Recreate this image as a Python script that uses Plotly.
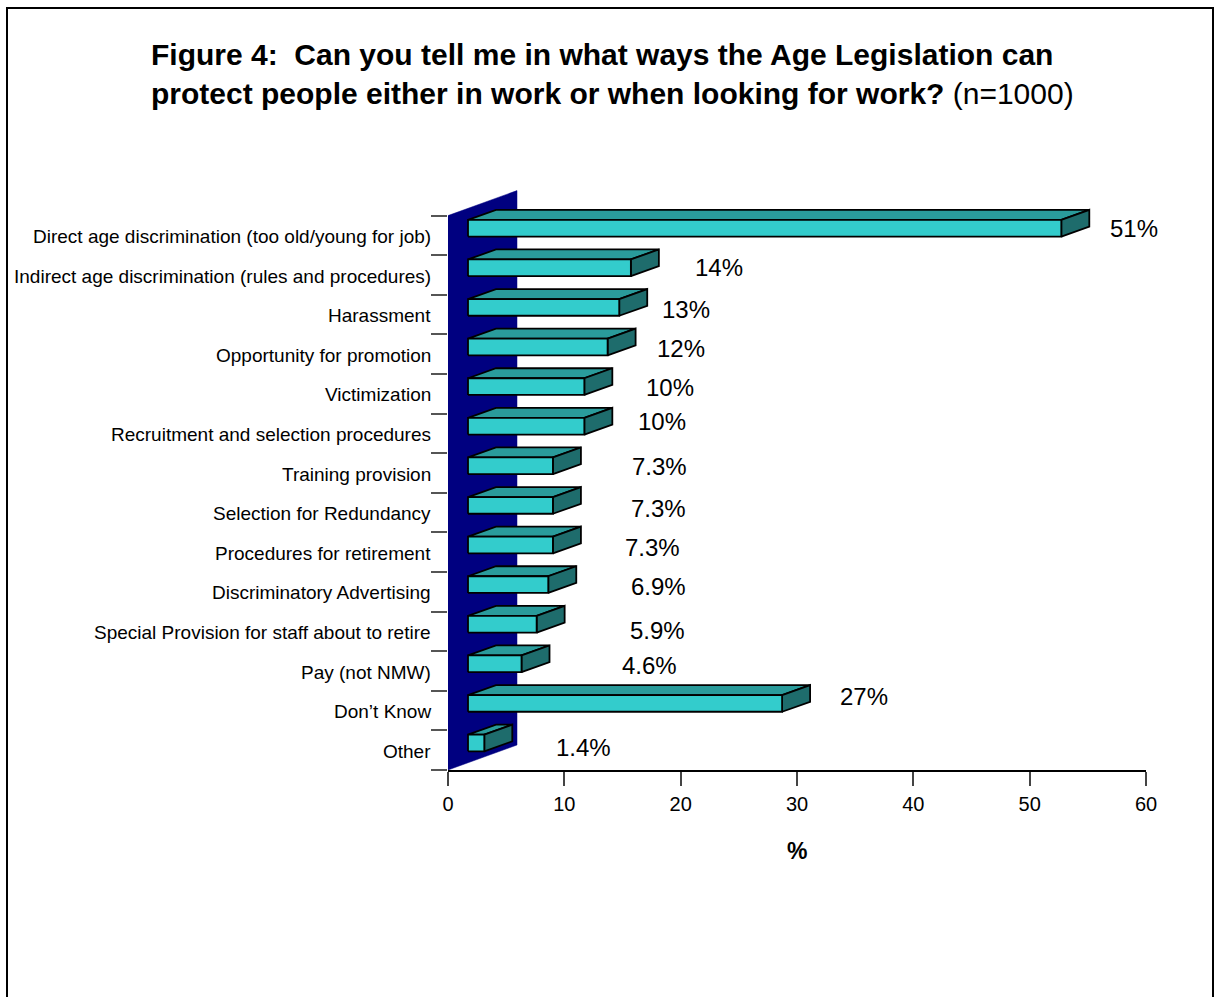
import plotly.graph_objects as go

# Survey responses (top to bottom)
categories = [
    "Direct age discrimination (too old/young for job)",
    "Indirect age discrimination (rules and procedures)",
    "Harassment",
    "Opportunity for promotion",
    "Victimization",
    "Recruitment and selection procedures",
    "Training provision",
    "Selection for Redundancy",
    "Procedures for retirement",
    "Discriminatory Advertising",
    "Special Provision for staff about to retire",
    "Pay (not NMW)",
    "Don\u2019t Know",
    "Other",
]
values = [51, 14, 13, 12, 10, 10, 7.3, 7.3, 7.3, 6.9, 5.9, 4.6, 27, 1.4]
value_labels = ["51%", "14%", "13%", "12%", "10%", "10%", "7.3%", "7.3%", "7.3%",
                "6.9%", "5.9%", "4.6%", "27%", "1.4%"]
x_ticks = [0, 10, 20, 30, 40, 50, 60]

# ---- layout geometry (pixels) ----
W, H = 1216, 997
M_L, M_R, M_T, M_B = 448, 70, 176, 227
X_MAX = 60
Y_MAX = 15
PW = W - M_L - M_R
PH = H - M_T - M_B
KX = PW / X_MAX          # px per % unit
KY = PH / Y_MAX          # px per category row

def dx(px):
    return px / KX

def dy(px):
    return px / KY

n = len(categories)
FRONT = (dx(20), dy(7.2))       # offset of bar front plane from axis plane
DEPTH = (dx(28), dy(10))        # bar thickness in depth
WALL = (dx(69), dy(25))         # side wall depth
HALF_H = dy(16.7) / 2

FRONT_C = "#33CCCC"
TOP_C = "#2A9B9B"
SIDE_C = "#1E6C6C"
WALL_C = "#000080"
FONT = "Liberation Sans, Arial, sans-serif"

fx, fy, tx, ty, sx, sy = [], [], [], [], [], []
for i, v in enumerate(values):
    c = (n - i - 0.5) + FRONT[1]
    x0 = FRONT[0]
    x1 = x0 + v
    ddx, ddy = DEPTH
    fx += [x0, x1, x1, x0, x0, None]
    fy += [c - HALF_H, c - HALF_H, c + HALF_H, c + HALF_H, c - HALF_H, None]
    tx += [x0, x1, x1 + ddx, x0 + ddx, x0, None]
    ty += [c + HALF_H, c + HALF_H, c + HALF_H + ddy, c + HALF_H + ddy, c + HALF_H, None]
    sx += [x1, x1 + ddx, x1 + ddx, x1, x1, None]
    sy += [c - HALF_H, c - HALF_H + ddy, c + HALF_H + ddy, c + HALF_H, c - HALF_H, None]

fig = go.Figure()
# back wall
fig.add_trace(go.Scatter(
    x=[0, 0, WALL[0], WALL[0], 0], y=[0, n, n + WALL[1], WALL[1], 0],
    mode="lines", fill="toself", fillcolor=WALL_C, line=dict(color=WALL_C, width=0.5),
    hoverinfo="skip", showlegend=False))
edge = dict(color="black", width=1.8)
for xs, ys, col in [(tx, ty, TOP_C), (sx, sy, SIDE_C), (fx, fy, FRONT_C)]:
    fig.add_trace(go.Scatter(x=xs, y=ys, mode="lines", fill="toself", fillcolor=col,
                             line=edge, hoverinfo="skip", showlegend=False))

annotations = []
# value labels
label_shift = [(93, 7), (108, 8), (87, 5), (93, 6), (106, 6), (98, 12), (127, 7),
               (126, 4), (120, 5), (130, 5), (141, 1), (148, 6), (102, 14), (119, 3)]
for i, (v, t) in enumerate(zip(values, value_labels)):
    xs_, ys_ = label_shift[i]
    annotations.append(dict(
        x=v, y=n - i - 0.5, xref="x", yref="y", text=t, showarrow=False,
        xanchor="center", yanchor="middle", xshift=xs_, yshift=ys_,
        font=dict(family=FONT, size=24, color="black")))
# category labels
for i, cat in enumerate(categories):
    annotations.append(dict(
        x=0, y=n - i - 0.5, xref="paper", yref="y", text=cat, showarrow=False,
        xanchor="right", yanchor="middle", xshift=-15, yshift=-1,
        font=dict(family=FONT, size=19, color="black")))

def px_x(p):
    return (p - M_L) / PW

def px_y(p):
    return (H - M_B - p) / PH

annotations += [
    dict(x=px_x(149), y=px_y(55), xref="paper", yref="paper", showarrow=False,
         xanchor="left", yanchor="middle",
         text="<b>Figure 4:  Can you tell me in what ways the Age Legislation can</b>",
         font=dict(family=FONT, size=30, color="black")),
    dict(x=px_x(149), y=px_y(93), xref="paper", yref="paper", showarrow=False,
         xanchor="left", yanchor="middle",
         text="<b>protect people either in work or when looking for work?</b> (n=1000)",
         font=dict(family=FONT, size=30, color="black")),
    dict(x=px_x(797), y=px_y(851), xref="paper", yref="paper", showarrow=False,
         xanchor="center", yanchor="middle", text="<b>%</b>",
         font=dict(family=FONT, size=23, color="black")),
]

fig.update_layout(
    width=W, height=H,
    margin=dict(l=M_L, r=M_R, t=M_T, b=M_B, pad=0),
    paper_bgcolor="white", plot_bgcolor="white",
    annotations=annotations,
    shapes=[dict(type="rect", xref="paper", yref="paper",
                 x0=px_x(7), x1=px_x(1213), y0=px_y(1010), y1=px_y(8),
                 line=dict(color="black", width=2), layer="below")],
    xaxis=dict(range=[0, X_MAX], tickvals=x_ticks, ticktext=[str(t) for t in x_ticks],
               showgrid=False, zeroline=False, showline=True, linecolor="black",
               linewidth=1.5, ticks="outside", ticklen=14, tickcolor="#444",
               tickwidth=1.5, tickfont=dict(family=FONT, size=20, color="black"),
               ticklabelstandoff=1, fixedrange=True),
    yaxis=dict(range=[0, Y_MAX], tickvals=list(range(n + 1)), showticklabels=False,
               showgrid=False, zeroline=False, showline=False, ticks="outside",
               ticklen=16, tickcolor="#555", tickwidth=1.5, fixedrange=True),
    showlegend=False,
)

fig.write_html("out.html")
